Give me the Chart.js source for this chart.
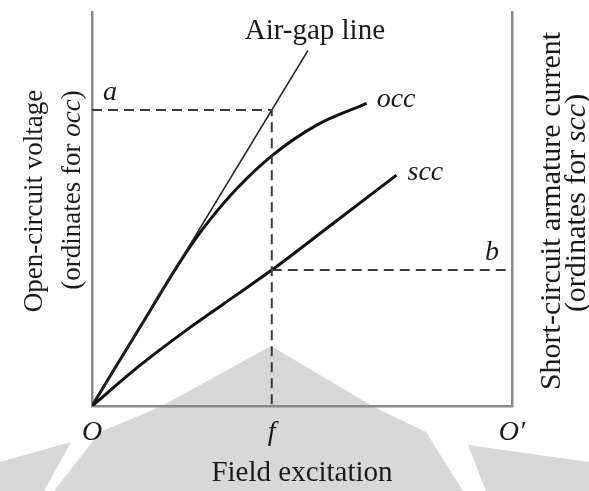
<!DOCTYPE html>
<html>
<head>
<meta charset="utf-8">
<script src="https://cdn.jsdelivr.net/npm/chart.js@4.4.1/dist/chart.umd.min.js"></script>
<style>
  html, body { margin: 0; padding: 0; background: #fff; }
  #chart { display: block; }
</style>
</head>
<body>
<canvas id="chart" width="589" height="491"></canvas>
<script>
'use strict';

// values, x = field excitation (0..100), y = ordinate (0..100)
var occX = [0, 5, 12, 20.2, 24.1, 28.1, 34.5, 42.8, 53.5, 65.4];
var occY = [0, 8.8, 21.0, 35.3, 41.6, 47.3, 55.2, 63.5, 71.3, 76.8];

var sccX = [0, 11.4, 23.3, 31.3, 42.8, 57, 72.5];
var sccY = [0, 10.3, 19.9, 25.9, 34.5, 46.0, 58.6];

var airGapX = [0, 51.4];
var airGapY = [0, 90.2];

var fValue = 42.8;   // field excitation f
var aValue = 75.1;   // ordinate a (air-gap line at f)
var bValue = 34.5;   // ordinate b (scc at f)

var xTickValues = [0, fValue, 100];
var xTickLabels = ['O', 'f', 'O\u2032'];

var serif = '"Liberation Serif", "DejaVu Serif", serif';
var ink = '#1a1a1a';
var axisGrey = '#8a8a8a';

function toPoints(xs, ys) {
    return xs.map(function(x, i) { return {x: x, y: ys[i]}; });
}

// light grey watermark behind the figure
var watermark = {
    id: 'watermark',
    beforeDraw: function(chart) {
        var ctx = chart.ctx;
        ctx.save();
        ctx.fillStyle = '#d8d8d8';
        var shapes = [
            [[271, 346], [374, 407], [426, 432], [463, 491], [54, 491], [100, 432], [160, 407]],
            [[0, 462], [71, 442], [44, 491], [0, 491]],
            [[468, 445], [589, 462], [589, 491], [486, 491]]
        ];
        shapes.forEach(function(s) {
            ctx.beginPath();
            s.forEach(function(p, i) { i ? ctx.lineTo(p[0], p[1]) : ctx.moveTo(p[0], p[1]); });
            ctx.closePath();
            ctx.fill();
        });
        ctx.restore();
    }
};

// writes a line made of plain and italic pieces, centred on x
function mixedText(ctx, parts, x, y, size) {
    var widths = parts.map(function(p) {
        ctx.font = (p[1] ? 'italic ' : '') + size + 'px ' + serif;
        return ctx.measureText(p[0]).width;
    });
    var total = widths.reduce(function(a, b) { return a + b; }, 0);
    var cx = x - total / 2;
    parts.forEach(function(p, i) {
        ctx.font = (p[1] ? 'italic ' : '') + size + 'px ' + serif;
        ctx.fillText(p[0], cx, y);
        cx += widths[i];
    });
}

var labels = {
    id: 'labels',
    afterDraw: function(chart) {
        var ctx = chart.ctx;
        var xs = chart.scales.x, ys = chart.scales.y, ys2 = chart.scales.y2;
        ctx.save();
        ctx.fillStyle = ink;
        ctx.textBaseline = 'alphabetic';
        ctx.textAlign = 'left';

        // Air-gap line label, above the end of the line
        var ax = xs.getPixelForValue(airGapX[1]), ay = ys.getPixelForValue(airGapY[1]);
        ctx.font = '29px ' + serif;
        ctx.textAlign = 'center';
        ctx.fillText('Air-gap line', ax + 7, ay - 12);

        // curve names
        ctx.textAlign = 'left';
        ctx.font = 'italic 28px ' + serif;
        ctx.fillText('occ', xs.getPixelForValue(occX[occX.length - 1]) + 10,
            ys.getPixelForValue(occY[occY.length - 1]) + 4);
        ctx.fillText('scc', xs.getPixelForValue(sccX[sccX.length - 1]) + 11,
            ys2.getPixelForValue(sccY[sccY.length - 1]) + 5);
        ctx.fillText('a', xs.getPixelForValue(0) + 11, ys.getPixelForValue(aValue) - 10);
        ctx.textAlign = 'right';
        ctx.fillText('b', xs.getPixelForValue(100) - 13, ys2.getPixelForValue(bValue) - 10);

        // axis titles, written upwards
        ctx.textAlign = 'left';
        ctx.save();
        ctx.translate(42, 201);
        ctx.rotate(-Math.PI / 2);
        mixedText(ctx, [['Open-circuit voltage', false]], 0, 0, 27);
        ctx.restore();
        ctx.save();
        ctx.translate(80, 190);
        ctx.rotate(-Math.PI / 2);
        mixedText(ctx, [['(ordinates for ', false], ['occ', true], [')', false]], 0, 0, 27);
        ctx.restore();
        ctx.save();
        ctx.translate(560, 211);
        ctx.rotate(-Math.PI / 2);
        mixedText(ctx, [['Short-circuit armature current', false]], 0, 0, 30);
        ctx.restore();
        ctx.save();
        ctx.translate(585, 203);
        ctx.rotate(-Math.PI / 2);
        mixedText(ctx, [['(ordinates for ', false], ['scc', true], [')', false]], 0, 0, 30);
        ctx.restore();

        ctx.restore();
    }
};

function initChart() {
    var ctx = document.getElementById('chart').getContext('2d');
    var dash = [10, 6];
    var data = {
        datasets: [
            {
                label: 'a',
                data: [{x: 0, y: aValue}, {x: fValue, y: aValue}, {x: fValue, y: 0}],
                borderColor: '#3a3a3a',
                borderWidth: 2,
                borderDash: dash,
                pointRadius: 0,
                tension: 0
            },
            {
                label: 'b',
                yAxisID: 'y2',
                data: [{x: fValue, y: bValue}, {x: 100, y: bValue}],
                borderColor: '#3a3a3a',
                borderWidth: 2,
                borderDash: dash,
                pointRadius: 0,
                tension: 0
            },
            {
                label: 'Air-gap line',
                data: toPoints(airGapX, airGapY),
                borderColor: '#222',
                borderWidth: 1.6,
                pointRadius: 0,
                tension: 0
            },
            {
                label: 'occ',
                data: toPoints(occX, occY),
                borderColor: '#111',
                borderWidth: 3,
                pointRadius: 0,
                cubicInterpolationMode: 'monotone'
            },
            {
                label: 'scc',
                yAxisID: 'y2',
                data: toPoints(sccX, sccY),
                borderColor: '#111',
                borderWidth: 3,
                pointRadius: 0,
                cubicInterpolationMode: 'monotone'
            }
        ]
    };
    var options = {
        responsive: false,
        animation: false,
        layout: { padding: { left: 92, right: 77, top: 12, bottom: 0 } },
        plugins: { legend: { display: false }, tooltip: { enabled: false } },
        scales: {
            x: {
                type: 'linear',
                min: 0,
                max: 100,
                grid: { display: false, drawTicks: false },
                border: { display: true, color: axisGrey, width: 2.5 },
                afterBuildTicks: function(scale) {
                    scale.ticks = xTickValues.map(function(v) { return {value: v}; });
                },
                ticks: {
                    autoSkip: false,
                    maxRotation: 0,
                    padding: 10,
                    color: ink,
                    font: { family: serif, size: 28, style: 'italic' },
                    callback: function(value, index) { return xTickLabels[index]; }
                },
                title: {
                    display: true,
                    text: 'Field excitation',
                    color: ink,
                    padding: { top: 0, bottom: 0 },
                    font: { family: serif, size: 29 }
                },
                afterFit: function(scale) { scale.height = 85; }
            },
            y: {
                type: 'linear',
                position: 'left',
                min: 0,
                max: 100,
                grid: { display: false, drawTicks: false },
                border: { display: true, color: axisGrey, width: 2.5 },
                ticks: { display: false },
                afterFit: function(scale) { scale.width = 0; }
            },
            y2: {
                type: 'linear',
                position: 'right',
                min: 0,
                max: 100,
                grid: { display: false, drawTicks: false },
                border: { display: true, color: axisGrey, width: 2.5 },
                ticks: { display: false },
                afterFit: function(scale) { scale.width = 0; }
            }
        }
    };
    new Chart(ctx, {
        type: 'line',
        data: data,
        options: options,
        plugins: [watermark, labels]
    });
}

initChart();
</script>
</body>
</html>
